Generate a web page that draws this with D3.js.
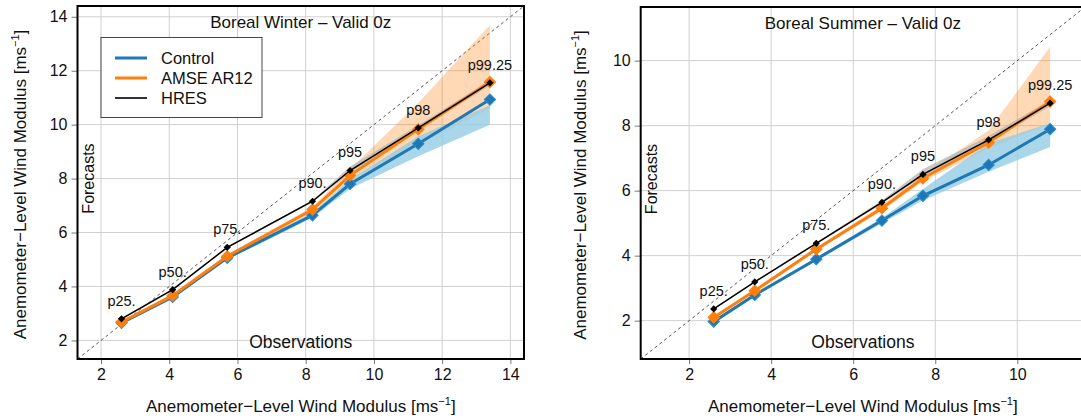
<!DOCTYPE html>
<html><head><meta charset="utf-8">
<script src="https://cdn.jsdelivr.net/npm/d3@7"></script>
<style>
html,body{margin:0;padding:0;background:#fff;}
svg{display:block;font-family:"Liberation Sans",Arial,Helvetica,sans-serif;}
</style></head>
<body>
<svg id="chart" width="1081" height="420"></svg>
<script>
// ---------- data ----------
const pctLabels = ["p25.", "p50.", "p75.", "p90.", "p95", "p98", "p99.25"];
const seriesNames = ["Control", "AMSE AR12", "HRES"];
const seriesColors = ["#1f77b4", "#ff7f0e", "#000000"];

// Boreal winter
const winterTitle = "Boreal Winter \u2013 Valid 0z";
const winterObs = [2.6, 4.1, 5.7, 8.2, 9.3, 11.3, 13.4];
const winterControl = [2.65, 3.61, 5.06, 6.64, 7.80, 9.29, 10.93];
const winterControlLo = [2.6, 3.55, 5.0, 6.55, 7.62, 8.83, 10.0];
const winterControlHi = [2.7, 3.67, 5.12, 6.74, 7.97, 9.57, 10.72];
const winterAmse = [2.68, 3.66, 5.12, 6.85, 8.12, 9.83, 11.58];
const winterAmseLo = [2.63, 3.6, 5.06, 6.76, 7.96, 9.25, 10.6];
const winterAmseHi = [2.73, 3.72, 5.18, 6.95, 8.36, 10.8, 13.7];
const winterHres = [2.8, 3.88, 5.45, 7.16, 8.30, 9.88, 11.55];
const winterHresLo = [2.77, 3.85, 5.42, 7.12, 8.22, 9.78, 11.45];
const winterHresHi = [2.83, 3.91, 5.48, 7.2, 8.45, 9.98, 11.65];
const winterTicks = [2, 4, 6, 8, 10, 12, 14];

// Boreal summer
const summerTitle = "Boreal Summer \u2013 Valid 0z";
const summerObs = [2.6, 3.6, 5.1, 6.7, 7.7, 9.3, 10.8];
const summerControl = [1.97, 2.79, 3.89, 5.08, 5.84, 6.79, 7.89];
const summerControlLo = [1.93, 2.75, 3.84, 5.0, 5.7, 6.58, 7.34];
const summerControlHi = [2.01, 2.83, 3.94, 5.16, 6.05, 7.46, 8.07];
const summerAmse = [2.10, 2.92, 4.20, 5.46, 6.38, 7.48, 8.74];
const summerAmseLo = [2.06, 2.88, 4.15, 5.38, 6.28, 7.3, 8.05];
const summerAmseHi = [2.14, 2.96, 4.25, 5.55, 6.5, 7.85, 10.43];
const summerHres = [2.36, 3.19, 4.38, 5.64, 6.50, 7.56, 8.69];
const summerHresLo = [2.34, 3.17, 4.35, 5.6, 6.44, 7.48, 8.6];
const summerHresHi = [2.38, 3.21, 4.41, 5.7, 6.66, 7.68, 8.78];
const summerTicks = [2, 4, 6, 8, 10];

const axisLabel = "Anemometer\u2212Level Wind Modulus [ms";

// ---------- drawing ----------
const svg = d3.select("#chart");

function drawPanel(cfg) {
  const x = d3.scaleLinear().domain(cfg.domain).range([cfg.left, cfg.right]);
  const y = d3.scaleLinear().domain(cfg.domain).range([cfg.bottom, cfg.top]);
  const g = svg.append("g");
  const clipId = "clip" + cfg.id;
  svg.append("defs").append("clipPath").attr("id", clipId)
    .append("rect").attr("x", cfg.left).attr("y", cfg.top)
    .attr("width", cfg.right - cfg.left).attr("height", cfg.bottom - cfg.top);

  // grid
  const grid = g.append("g");
  cfg.ticks.forEach(t => {
    grid.append("line").attr("x1", x(t)).attr("x2", x(t)).attr("y1", cfg.top).attr("y2", cfg.bottom)
      .attr("stroke", "#d0d0d0").attr("stroke-width", 1);
    grid.append("line").attr("y1", y(t)).attr("y2", y(t)).attr("x1", cfg.left).attr("x2", cfg.right)
      .attr("stroke", "#d0d0d0").attr("stroke-width", 1);
  });

  // axes
  const xAxis = d3.axisBottom(x).tickValues(cfg.ticks).tickSize(5).tickPadding(5).tickFormat(d3.format("d"));
  const yAxis = d3.axisLeft(y).tickValues(cfg.ticks).tickSize(6).tickPadding(4).tickFormat(d3.format("d"));
  const gx = g.append("g").attr("transform", `translate(0,${cfg.bottom})`).call(xAxis);
  const gy = g.append("g").attr("transform", `translate(${cfg.left},0)`).call(yAxis);
  [gx, gy].forEach(a => {
    a.select(".domain").remove();
    a.selectAll(".tick line").attr("stroke", "#777");
    a.selectAll(".tick text").attr("font-size", 16).attr("fill", "#111")
      .attr("font-family", "Liberation Sans, Arial, sans-serif");
  });

  const plot = g.append("g").attr("clip-path", `url(#${clipId})`);

  // diagonal
  plot.append("line")
    .attr("x1", x(cfg.domain[0])).attr("y1", y(cfg.domain[0]))
    .attr("x2", x(cfg.domain[1])).attr("y2", y(cfg.domain[1]))
    .attr("stroke", "#444").attr("stroke-width", 0.9).attr("stroke-dasharray", "3,3");

  const idx = d3.range(cfg.obs.length);
  const area = (lo, hi) => d3.area().x(i => x(cfg.obs[i])).y0(i => y(lo[i])).y1(i => y(hi[i]))(idx);

  // bands
  plot.append("path").attr("d", area(cfg.amseLo, cfg.amseHi)).attr("fill", "#ff7f0e").attr("fill-opacity", 0.3);
  plot.append("path").attr("d", area(cfg.hresLo, cfg.hresHi)).attr("fill", "#b4b4b4").attr("fill-opacity", 0.75);
  plot.append("path").attr("d", area(cfg.ctrlLo, cfg.ctrlHi)).attr("fill", "#94cde3").attr("fill-opacity", 0.8);

  const line = vals => d3.line().x(i => x(cfg.obs[i])).y(i => y(vals[i]))(idx);
  const diamond = (s) => d3.symbol().type(d3.symbolSquare).size(s);

  // Control
  plot.append("path").attr("d", line(cfg.ctrl)).attr("fill", "none").attr("stroke", seriesColors[0]).attr("stroke-width", 3);
  plot.selectAll(null).data(idx).enter().append("path")
    .attr("d", diamond(64)).attr("transform", i => `translate(${x(cfg.obs[i])},${y(cfg.ctrl[i])}) rotate(45)`)
    .attr("fill", seriesColors[0]).attr("stroke", "#2a8bcf").attr("stroke-width", 1);
  // AMSE
  plot.append("path").attr("d", line(cfg.amse)).attr("fill", "none").attr("stroke", seriesColors[1]).attr("stroke-width", 3);
  plot.selectAll(null).data(idx).enter().append("path")
    .attr("d", diamond(64)).attr("transform", i => `translate(${x(cfg.obs[i])},${y(cfg.amse[i])}) rotate(45)`)
    .attr("fill", seriesColors[1]).attr("stroke", seriesColors[1]).attr("stroke-width", 1);
  // HRES
  plot.append("path").attr("d", line(cfg.hres)).attr("fill", "none").attr("stroke", "#000").attr("stroke-width", 1.5);
  plot.selectAll(null).data(idx).enter().append("path")
    .attr("d", diamond(26)).attr("transform", i => `translate(${x(cfg.obs[i])},${y(cfg.hres[i])}) rotate(45)`)
    .attr("fill", "#000");

  // percentile labels
  g.selectAll(null).data(idx).enter().append("text")
    .attr("x", i => x(cfg.obs[i]))
    .attr("y", i => y(cfg.hres[i]) - 13)
    .attr("text-anchor", "middle").attr("font-size", 14.5).attr("fill", "#111")
    .text(i => pctLabels[i]);

  // frame
  g.append("rect").attr("x", cfg.left).attr("y", cfg.top)
    .attr("width", cfg.right - cfg.left).attr("height", cfg.bottom - cfg.top)
    .attr("fill", "none").attr("stroke", "#000").attr("stroke-width", 2);

  const cx = (cfg.left + cfg.right) / 2;
  const cy = (cfg.top + cfg.bottom) / 2;
  // title
  g.append("text").attr("x", cx).attr("y", cfg.top + 22).attr("text-anchor", "middle")
    .attr("font-size", 17).attr("fill", "#111").text(cfg.title);
  // Observations / Forecasts
  g.append("text").attr("x", cx).attr("y", 348).attr("text-anchor", "middle")
    .attr("font-size", 17.5).attr("fill", "#111").text("Observations");
  g.append("text").attr("transform", `translate(${cfg.left + 16},${cy - 4}) rotate(-90)`)
    .attr("text-anchor", "middle").attr("font-size", 16).attr("fill", "#111").text("Forecasts");

  // axis titles
  const xt = g.append("text").attr("x", cx).attr("y", 412).attr("text-anchor", "middle")
    .attr("font-size", 17).attr("fill", "#111");
  xt.append("tspan").text(axisLabel);
  xt.append("tspan").attr("font-size", 11).attr("dy", -7).text("\u22121");
  xt.append("tspan").attr("dy", 7).text("]");

  const yt = g.append("text").attr("transform", `translate(${cfg.ylabelX},${cy + 2}) rotate(-90)`)
    .attr("text-anchor", "middle").attr("font-size", 17).attr("fill", "#111");
  yt.append("tspan").text(axisLabel);
  yt.append("tspan").attr("font-size", 11).attr("dy", -7).text("\u22121");
  yt.append("tspan").attr("dy", 7).text("]");

  return {x, y, g};
}

drawPanel({
  id: "w", title: winterTitle, domain: [1.31, 14.4], ticks: winterTicks,
  left: 77.5, right: 524, top: 6, bottom: 359, ylabelX: 26,
  obs: winterObs, ctrl: winterControl, ctrlLo: winterControlLo, ctrlHi: winterControlHi,
  amse: winterAmse, amseLo: winterAmseLo, amseHi: winterAmseHi,
  hres: winterHres, hresLo: winterHresLo, hresHi: winterHresHi
});

drawPanel({
  id: "s", title: summerTitle, domain: [0.82, 11.65], ticks: summerTicks,
  left: 640.7, right: 1085, top: 7, bottom: 359, ylabelX: 586,
  obs: summerObs, ctrl: summerControl, ctrlLo: summerControlLo, ctrlHi: summerControlHi,
  amse: summerAmse, amseLo: summerAmseLo, amseHi: summerAmseHi,
  hres: summerHres, hresLo: summerHresLo, hresHi: summerHresHi
});

// legend (left panel)
const lg = svg.append("g");
lg.append("rect").attr("x", 101).attr("y", 37.5).attr("width", 161).attr("height", 80)
  .attr("fill", "#fff").attr("stroke", "#444").attr("stroke-width", 1);
const lgWidths = [3, 3, 1.6];
seriesNames.forEach((name, i) => {
  const yy = 58 + i * 20;
  lg.append("line").attr("x1", 115).attr("x2", 147).attr("y1", yy).attr("y2", yy)
    .attr("stroke", seriesColors[i]).attr("stroke-width", lgWidths[i]);
  lg.append("text").attr("x", 161).attr("y", yy + 6).attr("font-size", 16.5).attr("fill", "#111").text(name);
});
</script>
</body></html>
